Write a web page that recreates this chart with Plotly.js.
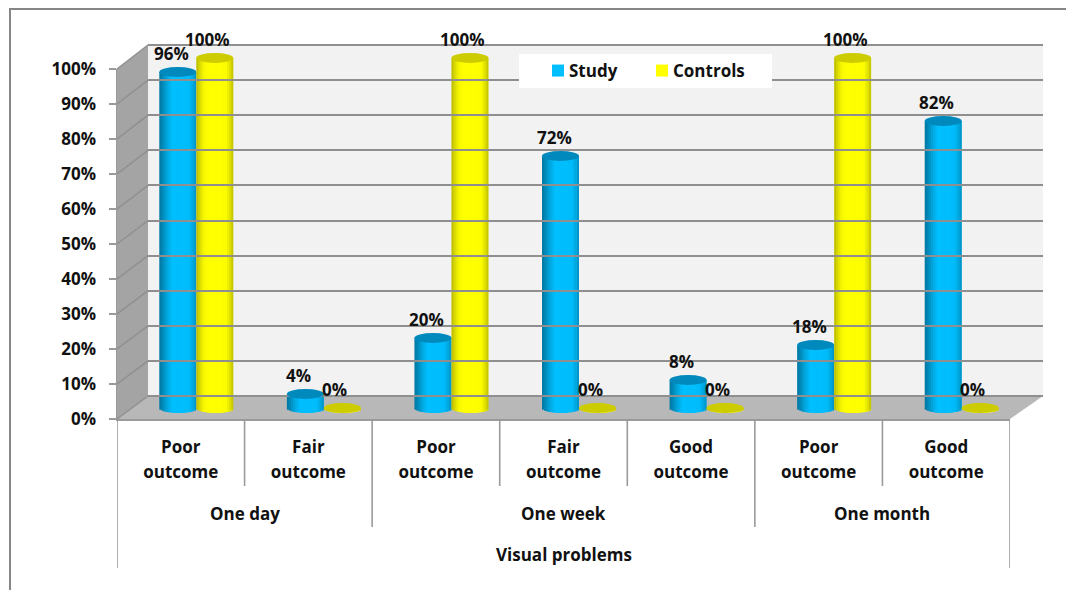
<!DOCTYPE html>
<html><head><meta charset="utf-8">
<script src="https://cdn.plot.ly/plotly-3.0.1.min.js"></script>
<style>html,body{margin:0;padding:0;background:#fff}</style>
</head><body><div id="chart" style="width:1066px;height:590px"></div>
<script>
// ---- data ----
const categoriesTop = ['Poor','Fair','Poor','Fair','Good','Poor','Good'];
const categoriesBottom = ['outcome','outcome','outcome','outcome','outcome','outcome','outcome'];
const periods = ['One day','One week','One month'];
const periodSpans = [[0,2],[2,5],[5,7]];
const outerTitle = 'Visual problems';
const study = [96,4,20,72,8,18,82];
const controls = [100,0,100,0,0,100,0];
const percentTicks = [0,10,20,30,40,50,60,70,80,90,100];
// ---- style ----
const W=1066,H=590;
const px=v=>v/W, py=v=>1-v/H;
const FONT={family:'"Open Sans", sans-serif',size:17,color:'#111',weight:700};
const GRID='#8f8f8f', LINE='#9a9a9a';
const blueStops=[[0,'#00769f'],[.1,'#008abb'],[.22,'#00a8e0'],[.36,'#00bfff'],[.8,'#00bcfa'],[.92,'#00a6de'],[1,'#0090c2']];
const yellowStops=[[0,'#b8b800'],[.08,'#d6d600'],[.2,'#f6f600'],[.32,'#ffff00'],[.8,'#fdfd00'],[.92,'#dede00'],[1,'#bcbc00']];
const hex=c=>[1,3,5].map(i=>parseInt(c.substr(i,2),16));
function shade(stops,t){
  for(let i=1;i<stops.length;i++) if(t<=stops[i][0]){
    const a=stops[i-1],b=stops[i],f=(t-a[0])/(b[0]-a[0]);
    const A=hex(a[1]),B=hex(b[1]);
    return 'rgb('+A.map((v,k)=>Math.round(v+(B[k]-v)*f)).join(',')+')';
  }
  return stops[stops.length-1][1];
}
// geometry of the mid-depth plane where the cylinders stand
const UNIT=893/7, PXV=3.5, RY=5;
const barW=37/UNIT, centre=18.5/UNIT, ryV=RY/PXV, STRIPS=18;
const xs=study.map((_,i)=>i);
const traces=[];
function cylinder(vals,cx,stops,name,swatch){
  for(let s=0;s<STRIPS;s++){
    const t=(s+.5)/STRIPS, u=2*t-1, drop=ryV*Math.sqrt(1-u*u);
    const isMain=s===Math.round(STRIPS*.6);
    // every strip runs under its right-hand neighbour so no seam shows
    const span=(s===STRIPS-1?1:1.9)*barW/STRIPS;
    traces.push({type:'bar',x:xs,y:vals.map(v=>v+drop),base:vals.map(()=>-drop),
      width:span,offset:cx-barW/2+s*barW/STRIPS,
      marker:{color:isMain?swatch:shade(stops,t),line:{width:0}},
      name:isMain?name:'',showlegend:isMain,hoverinfo:'skip',xaxis:'x',yaxis:'y'});
  }
}
cylinder(study,-centre,blueStops,'Study','#00bfff');
cylinder(controls,centre,yellowStops,'Controls','#ffff00');
// helper traces keep the wall and front-plane axes alive
const ghost=(x,y)=>({type:'scatter',mode:'markers',x:[0],y:[0],xaxis:x,yaxis:y,marker:{opacity:0,size:1},showlegend:false,hoverinfo:'skip'});
traces.push(ghost('x2','y3'),ghost('x3','y2'),ghost('x4','y2'));

const frontY=v=>419-3.5*v, backY=v=>396-3.51*v;
const shapes=[
 {type:'line',xref:'paper',yref:'paper',x0:px(10),x1:px(10),y0:py(9),y1:py(590),line:{color:'#868686',width:2},layer:'below'},
 {type:'line',xref:'paper',yref:'paper',x0:px(9),x1:1,y0:py(9),y1:py(9),line:{color:'#868686',width:2},layer:'below'},
 {type:'rect',xref:'paper',yref:'paper',x0:px(148),x1:px(1043),y0:py(396),y1:py(45),fillcolor:'#f2f2f2',line:{width:0},layer:'below'},
 {type:'path',xref:'paper',yref:'paper',path:`M${px(117)},${py(69)} L${px(148)},${py(45)} L${px(148)},${py(396)} L${px(117)},${py(419)} Z`,fillcolor:'#a4a4a4',line:{width:0},layer:'below'},
 {type:'path',xref:'paper',yref:'paper',path:`M${px(117)},${py(419)} L${px(148)},${py(396)} L${px(1043)},${py(396)} L${px(1010)},${py(419)} Z`,fillcolor:'#b8b8b8',line:{width:0},layer:'below'}
];
percentTicks.forEach(v=>shapes.push({type:'line',xref:'paper',yref:'paper',x0:px(117),x1:px(148),y0:py(frontY(v)),y1:py(backY(v)),line:{color:GRID,width:1.5},layer:'below'}));
shapes.push({type:'rect',xref:'paper',yref:'paper',x0:px(519),x1:px(772),y0:py(88),y1:py(54),fillcolor:'#fff',line:{width:0},layer:'above'});
function caps(vals,cx,color){vals.forEach((v,i)=>shapes.push({type:'circle',xref:'x',yref:'y',
  x0:i+cx-barW/2,x1:i+cx+barW/2,y0:v-ryV,y1:v+ryV,fillcolor:color,line:{width:0},layer:'above'}));}
caps(study,-centre,'#0089bd');
caps(controls,centre,'#cccc00');
const sepBottom=i=>(i===0||i===7)?568:(periodSpans.some(s=>s[1]===i)?527:486);
for(let i=0;i<=7;i++) shapes.push({type:'line',xref:'x3',yref:'paper',x0:i-.5,x1:i-.5,y0:py(419),y1:py(sepBottom(i)),line:{color:LINE,width:1.6}});

const annotations=[];
function labels(vals,cx,dx){vals.forEach((v,i)=>annotations.push({xref:'x',yref:'y',x:i+cx,y:v,text:v+'%',showarrow:false,xshift:dx,yshift:19,font:FONT}));}
labels(study,-centre,-6.5);labels(controls,centre,-7.5);
periods.forEach((p,i)=>annotations.push({xref:'x3',yref:'paper',x:(periodSpans[i][0]+periodSpans[i][1])/2-.5,y:py(513),yanchor:'middle',text:p,showarrow:false,font:FONT}));
annotations.push({xref:'x3',yref:'paper',x:3,y:py(554),yanchor:'middle',text:outerTitle,showarrow:false,font:FONT});

const hiddenAxis=o=>Object.assign({visible:false,fixedrange:true},o);
const dom=(a,b)=>[px(a),px(b)], vdom=(bot,top)=>[py(bot),py(top)];
const layout={
 width:W,height:H,margin:{l:0,r:0,t:0,b:0},paper_bgcolor:'#fff',plot_bgcolor:'rgba(0,0,0,0)',
 barmode:'overlay',font:FONT,showlegend:true,
 legend:{orientation:'h',x:px(538),y:py(71),xanchor:'left',yanchor:'middle',bgcolor:'rgba(0,0,0,0)',font:FONT,
   entrywidth:59,entrywidthmode:'pixels',itemwidth:30,traceorder:'normal'},
 xaxis:hiddenAxis({domain:dom(132.5,1025.5),range:[-.5,6.5]}),
 yaxis:hiddenAxis({domain:vdom(408+5*PXV,408-110*PXV),range:[-5,110]}),
 xaxis2:hiddenAxis({domain:dom(148,1043),range:[0,1],anchor:'y3'}),
 yaxis3:{domain:vdom(396+3.51,45-3.51),range:[-1,101],anchor:'x2',tickvals:percentTicks,showticklabels:false,ticks:'',showgrid:true,gridcolor:GRID,gridwidth:2,zeroline:false,showline:false,fixedrange:true},
 xaxis3:{domain:dom(117,1010),range:[-.5,6.5],anchor:'y2',tickmode:'array',tickvals:xs,ticktext:categoriesTop,ticks:'',showgrid:false,zeroline:false,showline:true,linecolor:LINE,linewidth:2,ticklabelstandoff:12,ticklabelshift:-1.5,tickfont:FONT,fixedrange:true},
 xaxis4:{domain:dom(117,1010),range:[-.5,6.5],anchor:'y2',overlaying:'x3',tickmode:'array',tickvals:xs,ticktext:categoriesBottom,ticks:'',showgrid:false,zeroline:false,showline:false,ticklabelstandoff:41,ticklabelshift:-1.5,tickfont:FONT,fixedrange:true},
 yaxis2:{domain:vdom(419,69),range:[0,100],anchor:'x3',tickvals:percentTicks,ticktext:percentTicks.map(v=>v+'%'),ticks:'outside',ticklen:7,tickcolor:LINE,tickwidth:1.5,showgrid:false,zeroline:false,showline:true,linecolor:LINE,linewidth:1.5,tickfont:FONT,ticklabelstandoff:9,fixedrange:true},
 shapes,annotations
};
Plotly.newPlot('chart',traces,layout,{displayModeBar:false,staticPlot:true}).then(gd=>{
  // pull the legend names closer to their swatches
  gd.querySelectorAll('.legend .legendtext').forEach(t=>{
    t.setAttribute('x',+t.getAttribute('x')-9);
    t.querySelectorAll('tspan').forEach(s=>{if(s.getAttribute('x'))s.setAttribute('x',+s.getAttribute('x')-9);});
  });
});
</script></body></html>
